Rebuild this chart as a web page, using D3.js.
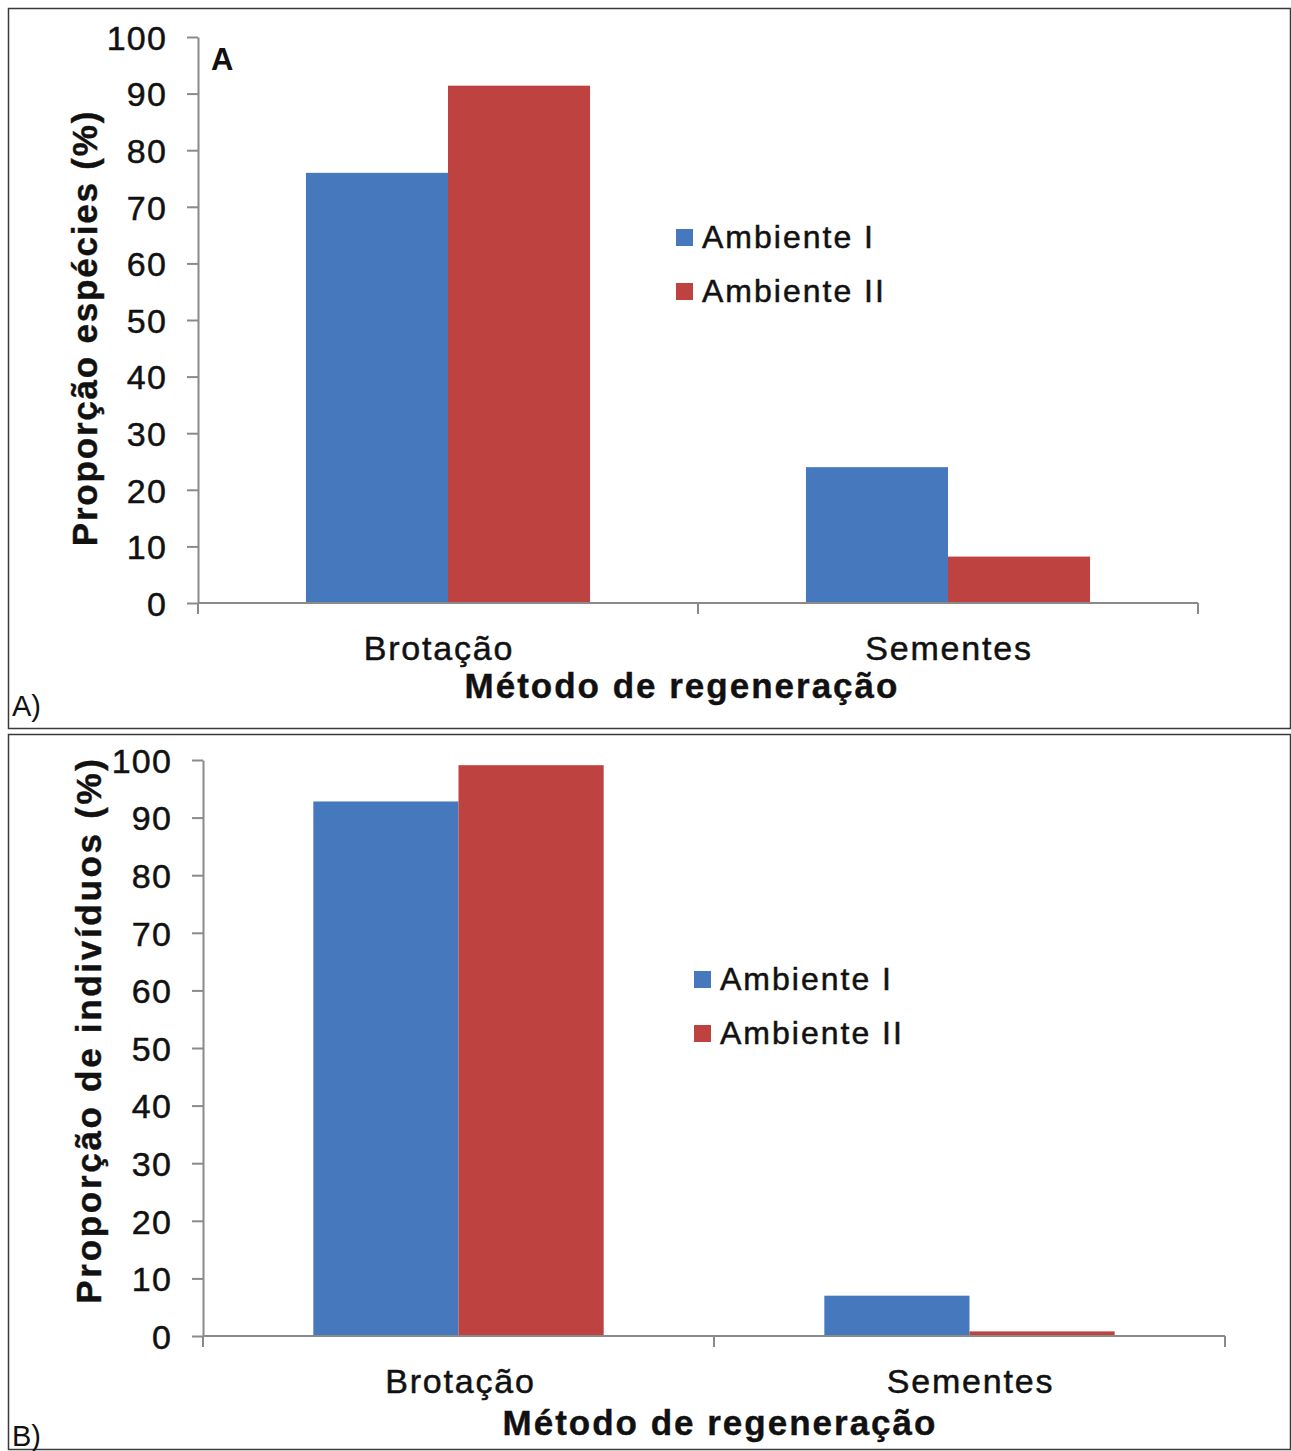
<!DOCTYPE html>
<html><head><meta charset="utf-8">
<script src="https://cdn.jsdelivr.net/npm/d3@7"></script>
<style>
html,body{margin:0;padding:0;background:#fff;}
svg{display:block;font-family:"Liberation Sans",Arial,sans-serif;}
</style></head>
<body>
<svg id="c" width="1291" height="1451"></svg>
<script>
const categories = ["Brotação", "Sementes"];
const seriesNames = ["Ambiente I", "Ambiente II"];
const yTicks = [0, 10, 20, 30, 40, 50, 60, 70, 80, 90, 100];
const panelA_ambienteI = [76, 24];
const panelA_ambienteII = [91.4, 8.2];
const panelB_ambienteI = [92.8, 7.0];
const panelB_ambienteII = [99.1, 0.8];
const colors = ["#4678BE", "#BE4340"];

const svg = d3.select("#c");
const axisColor = "#8a8a8a";
const textColor = "#111111";

const panels = [
  {
    box: [8, 8, 1282, 720], x0: 198, x1: 1198, yTop: 37, yBot: 603,
    data: [panelA_ambienteI, panelA_ambienteII],
    ytitle: "Proporção espécies (%)", ytitleX: 97, ytitleY: 328, ytitleSize: 35, ytitleLS: 1.8,
    corner: "A", legendX: 676, legendY: 237, xtitleY: 698, xtitleDx: -16,
    catY: 660, catDx: [-9, 1], tag: "A)", tagY: 716
  },
  {
    box: [8, 734, 1282, 715], x0: 203, x1: 1225, yTop: 760, yBot: 1336,
    data: [panelB_ambienteI, panelB_ambienteII],
    ytitle: "Proporção de indivíduos (%)", ytitleX: 101, ytitleY: 1030, ytitleSize: 35, ytitleLS: 2.7,
    corner: null, legendX: 694, legendY: 979, xtitleY: 1435, xtitleDx: 6,
    catY: 1393, catDx: [2, 1], tag: "B)", tagY: 1446
  }
];

function heavy(sel, w) {
  return sel.attr("stroke", textColor).attr("stroke-width", w).attr("paint-order", "stroke");
}

panels.forEach(p => {
  const g = svg.append("g");
  g.append("rect").attr("x", p.box[0] + 0.5).attr("y", p.box[1] + 0.5)
    .attr("width", p.box[2]).attr("height", p.box[3])
    .attr("fill", "none").attr("stroke", "#3a3a3a").attr("stroke-width", 1.5);

  const y = d3.scaleLinear().domain([0, 100]).range([p.yBot, p.yTop]);
  const x = d3.scaleBand().domain(categories).range([p.x0, p.x1]).padding(0);
  const xs = d3.scaleBand().domain(seriesNames).range([0, x.bandwidth()])
    .paddingInner(0).paddingOuter(0.76);

  // bars
  seriesNames.forEach((s, si) => {
    g.append("g").selectAll("rect").data(categories).join("rect")
      .attr("x", c => x(c) + xs(s))
      .attr("y", (c, i) => y(p.data[si][i]))
      .attr("width", xs.bandwidth())
      .attr("height", (c, i) => y(0) - y(p.data[si][i]))
      .attr("fill", colors[si]);
  });

  // y axis
  const ya = g.append("g").attr("transform", `translate(${p.x0},0)`)
    .call(d3.axisLeft(y).tickValues(yTicks).tickSize(11).tickSizeOuter(0).tickPadding(20));
  ya.select(".domain").attr("stroke", axisColor).attr("stroke-width", 2);
  ya.selectAll(".tick line").attr("stroke", axisColor).attr("stroke-width", 2);
  heavy(ya.selectAll(".tick text").attr("font-size", 34).attr("fill", textColor)
    .attr("letter-spacing", 1.2)
    .attr("font-family", "'Liberation Sans', Arial, sans-serif").attr("dy", "0.36em"), 0.5);
  g.append("line").attr("x1", p.x0).attr("x2", p.x0).attr("y1", y(0)).attr("y2", y(0) + 11)
    .attr("stroke", axisColor).attr("stroke-width", 2);

  // x axis
  g.append("line").attr("x1", p.x0).attr("x2", p.x1).attr("y1", y(0)).attr("y2", y(0))
    .attr("stroke", axisColor).attr("stroke-width", 2);
  const bounds = categories.map(c => x(c)).concat([x(categories[categories.length - 1]) + x.bandwidth()]);
  g.append("g").selectAll("line").data(bounds).join("line")
    .attr("x1", d => d).attr("x2", d => d).attr("y1", y(0)).attr("y2", y(0) + 11)
    .attr("stroke", axisColor).attr("stroke-width", 2);
  heavy(g.append("g").selectAll("text").data(categories).join("text")
    .attr("x", (c, i) => x(c) + x.bandwidth() / 2 + p.catDx[i])
    .attr("y", p.catY)
    .attr("text-anchor", "middle").attr("font-size", 34).attr("letter-spacing", 1.8)
    .attr("fill", textColor)
    .text(c => c), 0.5);

  // titles
  heavy(g.append("text").attr("x", (p.x0 + p.x1) / 2 + p.xtitleDx).attr("y", p.xtitleY)
    .attr("text-anchor", "middle").attr("font-size", 35).attr("font-weight", "bold")
    .attr("letter-spacing", 2)
    .attr("fill", textColor).text("Método de regeneração"), 0.4);
  heavy(g.append("text").attr("transform", `translate(${p.ytitleX},${p.ytitleY}) rotate(-90)`)
    .attr("text-anchor", "middle").attr("font-size", p.ytitleSize).attr("font-weight", "bold")
    .attr("letter-spacing", p.ytitleLS)
    .attr("fill", textColor).text(p.ytitle), 0.4);
  if (p.corner) {
    g.append("text").attr("x", p.x0 + 13).attr("y", p.yTop + 33)
      .attr("font-size", 31).attr("font-weight", "bold").attr("fill", textColor).text(p.corner);
  }
  g.append("text").attr("x", 12).attr("y", p.tagY).attr("font-size", 29)
    .attr("fill", textColor).text(p.tag);

  // legend
  const lg = g.append("g").attr("transform", `translate(${p.legendX},${p.legendY})`);
  seriesNames.forEach((s, si) => {
    lg.append("rect").attr("x", 0).attr("y", si * 54 - 8).attr("width", 17).attr("height", 17)
      .attr("fill", colors[si]);
    heavy(lg.append("text").attr("x", 26).attr("y", si * 54 + 11).attr("font-size", 32)
      .attr("letter-spacing", 2)
      .attr("fill", textColor).text(s), 0.5);
  });
});
</script>
</body></html>
